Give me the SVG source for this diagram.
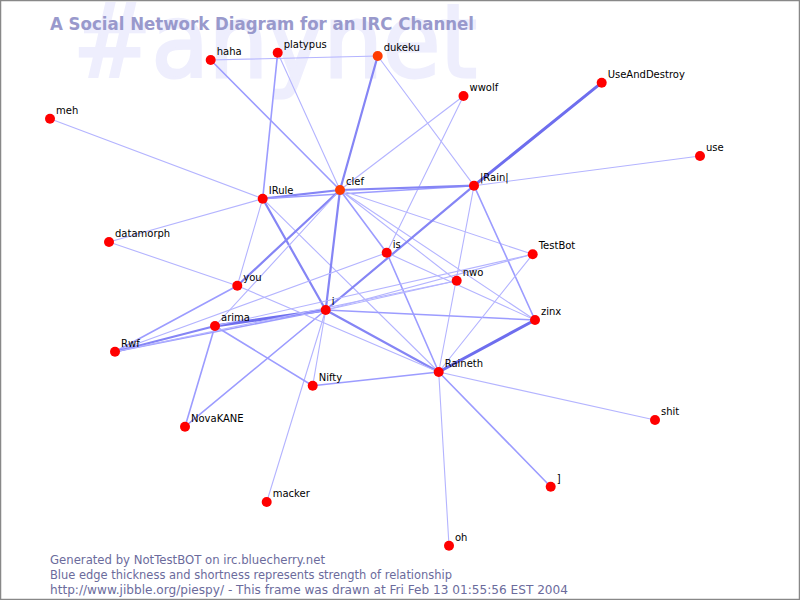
<svg xmlns="http://www.w3.org/2000/svg" width="800" height="600" viewBox="0 0 800 600">
<style>
.bg{font-family:"DejaVu Sans","Liberation Sans",sans-serif;font-size:102px;fill:#eeeefd;stroke:#eeeefd;stroke-width:3}
.title{font-family:"DejaVu Sans","Liberation Sans",sans-serif;font-weight:bold;font-size:18px;fill:#9999cc}
.foot{font-family:"DejaVu Sans","Liberation Sans",sans-serif;font-size:12.5px;fill:#6b6b9c}
.lbl{font-family:"DejaVu Sans","Liberation Sans",sans-serif;font-size:10px;fill:#000}
.n{fill:#ff0000}
.o{fill:#ff3a00}
.w1{stroke:#b4b4ff;stroke-width:1.1}
.w2{stroke:#9c9cff;stroke-width:1.6}
.w3{stroke:#8585f5;stroke-width:2.2}
.w4{stroke:#6e6eee;stroke-width:3}
</style>
<rect x="0" y="0" width="800" height="600" fill="#ffffff"/>
<text class="bg" x="73" y="77" textLength="404" lengthAdjust="spacingAndGlyphs">#anynet</text>
<text class="title" x="50" y="30" textLength="424" lengthAdjust="spacingAndGlyphs">A Social Network Diagram for an IRC Channel</text>
<g id="connectors" fill="none" stroke-linecap="round">
<line class="w1" x1="210.7" y1="60" x2="377.7" y2="56"/>
<line class="w2" x1="210.7" y1="60" x2="340" y2="190"/>
<line class="w2" x1="277.7" y1="52.7" x2="262.7" y2="198.7"/>
<line class="w1" x1="277.7" y1="52.7" x2="340" y2="190"/>
<line class="w3" x1="377.7" y1="56" x2="340" y2="190"/>
<line class="w1" x1="377.7" y1="56" x2="474" y2="185.7"/>
<line class="w1" x1="463.5" y1="96" x2="340" y2="190"/>
<line class="w1" x1="463.5" y1="96" x2="386.7" y2="252.7"/>
<line class="w4" x1="601.7" y1="82.7" x2="474" y2="185.7"/>
<line class="w1" x1="700" y1="156" x2="474" y2="185.7"/>
<line class="w1" x1="50" y1="118.7" x2="262.7" y2="198.7"/>
<line class="w1" x1="109" y1="242" x2="262.7" y2="198.7"/>
<line class="w1" x1="109" y1="242" x2="237.3" y2="285.7"/>
<line class="w3" x1="262.7" y1="198.7" x2="340" y2="190"/>
<line class="w2" x1="262.7" y1="198.7" x2="474" y2="185.7"/>
<line class="w3" x1="262.7" y1="198.7" x2="325.7" y2="310"/>
<line class="w1" x1="262.7" y1="198.7" x2="237.3" y2="285.7"/>
<line class="w1" x1="262.7" y1="198.7" x2="438.7" y2="372"/>
<line class="w3" x1="340" y1="190" x2="474" y2="185.7"/>
<line class="w2" x1="340" y1="190" x2="386.7" y2="252.7"/>
<line class="w3" x1="340" y1="190" x2="325.7" y2="310"/>
<line class="w3" x1="340" y1="190" x2="237.3" y2="285.7"/>
<line class="w1" x1="340" y1="190" x2="215" y2="326"/>
<line class="w1" x1="340" y1="190" x2="456.7" y2="280.7"/>
<line class="w1" x1="340" y1="190" x2="532.7" y2="254.3"/>
<line class="w1" x1="340" y1="190" x2="535" y2="320"/>
<line class="w3" x1="474" y1="185.7" x2="325.7" y2="310"/>
<line class="w1" x1="474" y1="185.7" x2="438.7" y2="372"/>
<line class="w2" x1="474" y1="185.7" x2="535" y2="320"/>
<line class="w2" x1="386.7" y1="252.7" x2="438.7" y2="372"/>
<line class="w1" x1="386.7" y1="252.7" x2="535" y2="320"/>
<line class="w1" x1="386.7" y1="252.7" x2="115" y2="351.7"/>
<line class="w4" x1="325.7" y1="310" x2="215" y2="326"/>
<line class="w2" x1="325.7" y1="310" x2="115" y2="351.7"/>
<line class="w2" x1="325.7" y1="310" x2="535" y2="320"/>
<line class="w3" x1="325.7" y1="310" x2="438.7" y2="372"/>
<line class="w1" x1="325.7" y1="310" x2="456.7" y2="280.7"/>
<line class="w1" x1="325.7" y1="310" x2="532.7" y2="254.3"/>
<line class="w1" x1="325.7" y1="310" x2="312.7" y2="385.7"/>
<line class="w1" x1="325.7" y1="310" x2="266.7" y2="502"/>
<line class="w2" x1="325.7" y1="310" x2="185" y2="426.7"/>
<line class="w2" x1="237.3" y1="285.7" x2="115" y2="351.7"/>
<line class="w1" x1="237.3" y1="285.7" x2="438.7" y2="372"/>
<line class="w3" x1="215" y1="326" x2="115" y2="351.7"/>
<line class="w2" x1="215" y1="326" x2="312.7" y2="385.7"/>
<line class="w2" x1="215" y1="326" x2="185" y2="426.7"/>
<line class="w1" x1="215" y1="326" x2="532.7" y2="254.3"/>
<line class="w1" x1="115" y1="351.7" x2="456.7" y2="280.7"/>
<line class="w4" x1="438.7" y1="372" x2="535" y2="320"/>
<line class="w2" x1="438.7" y1="372" x2="312.7" y2="385.7"/>
<line class="w1" x1="438.7" y1="372" x2="655" y2="420"/>
<line class="w2" x1="438.7" y1="372" x2="550.7" y2="486.7"/>
<line class="w1" x1="438.7" y1="372" x2="449" y2="545.7"/>
<line class="w1" x1="438.7" y1="372" x2="532.7" y2="254.3"/>
</g>
<g id="node-haha"><circle class="n" cx="210.7" cy="60" r="5"/><text class="lbl" x="216.7" y="55">haha</text></g>
<g id="node-platypus"><circle class="n" cx="277.7" cy="52.7" r="5"/><text class="lbl" x="283.7" y="47.7">platypus</text></g>
<g id="node-dukeku"><circle class="o" cx="377.7" cy="56" r="5"/><text class="lbl" x="383.7" y="51">dukeku</text></g>
<g id="node-wwolf"><circle class="n" cx="463.5" cy="96" r="5"/><text class="lbl" x="469.5" y="91">wwolf</text></g>
<g id="node-UseAndDestroy"><circle class="n" cx="601.7" cy="82.7" r="5"/><text class="lbl" x="607.7" y="77.7">UseAndDestroy</text></g>
<g id="node-meh"><circle class="n" cx="50" cy="118.7" r="5"/><text class="lbl" x="56" y="113.7">meh</text></g>
<g id="node-use"><circle class="n" cx="700" cy="156" r="5"/><text class="lbl" x="706" y="151">use</text></g>
<g id="node-IRule"><circle class="n" cx="262.7" cy="198.7" r="5"/><text class="lbl" x="268.7" y="193.7">IRule</text></g>
<g id="node-clef"><circle class="o" cx="340" cy="190" r="5"/><text class="lbl" x="346" y="185">clef</text></g>
<g id="node-Rain"><circle class="n" cx="474" cy="185.7" r="5"/><text class="lbl" x="480" y="180.7">|Rain|</text></g>
<g id="node-datamorph"><circle class="n" cx="109" cy="242" r="5"/><text class="lbl" x="115" y="237">datamorph</text></g>
<g id="node-TestBot"><circle class="n" cx="532.7" cy="254.3" r="5"/><text class="lbl" x="538.7" y="249.3">TestBot</text></g>
<g id="node-is"><circle class="n" cx="386.7" cy="252.7" r="5"/><text class="lbl" x="392.7" y="247.7">is</text></g>
<g id="node-nwo"><circle class="n" cx="456.7" cy="280.7" r="5"/><text class="lbl" x="462.7" y="275.7">nwo</text></g>
<g id="node-you"><circle class="n" cx="237.3" cy="285.7" r="5"/><text class="lbl" x="243.3" y="280.7">you</text></g>
<g id="node-i"><circle class="n" cx="325.7" cy="310" r="5"/><text class="lbl" x="331.7" y="305">i</text></g>
<g id="node-arima"><circle class="n" cx="215" cy="326" r="5"/><text class="lbl" x="221" y="321">arima</text></g>
<g id="node-zinx"><circle class="n" cx="535" cy="320" r="5"/><text class="lbl" x="541" y="315">zinx</text></g>
<g id="node-Rwf"><circle class="n" cx="115" cy="351.7" r="5"/><text class="lbl" x="121" y="346.7">Rwf</text></g>
<g id="node-Raineth"><circle class="n" cx="438.7" cy="372" r="5"/><text class="lbl" x="444.7" y="367">Raineth</text></g>
<g id="node-Nifty"><circle class="n" cx="312.7" cy="385.7" r="5"/><text class="lbl" x="318.7" y="380.7">Nifty</text></g>
<g id="node-shit"><circle class="n" cx="655" cy="420" r="5"/><text class="lbl" x="661" y="415">shit</text></g>
<g id="node-NovaKANE"><circle class="n" cx="185" cy="426.7" r="5"/><text class="lbl" x="191" y="421.7">NovaKANE</text></g>
<g id="node-J"><circle class="n" cx="550.7" cy="486.7" r="5"/><text class="lbl" x="556.7" y="481.7">]</text></g>
<g id="node-macker"><circle class="n" cx="266.7" cy="502" r="5"/><text class="lbl" x="272.7" y="497">macker</text></g>
<g id="node-oh"><circle class="n" cx="449" cy="545.7" r="5"/><text class="lbl" x="455" y="540.7">oh</text></g>
<text class="foot" x="50" y="564" textLength="275" lengthAdjust="spacingAndGlyphs">Generated by NotTestBOT on irc.bluecherry.net</text>
<text class="foot" x="50" y="579" textLength="402" lengthAdjust="spacingAndGlyphs">Blue edge thickness and shortness represents strength of relationship</text>
<text class="foot" x="50" y="594" textLength="518" lengthAdjust="spacingAndGlyphs">http://www.jibble.org/piespy/ - This frame was drawn at Fri Feb 13 01:55:56 EST 2004</text>
<rect x="0.5" y="0.5" width="799" height="599" fill="none" stroke="#888888" stroke-width="1.5"/>
</svg>
